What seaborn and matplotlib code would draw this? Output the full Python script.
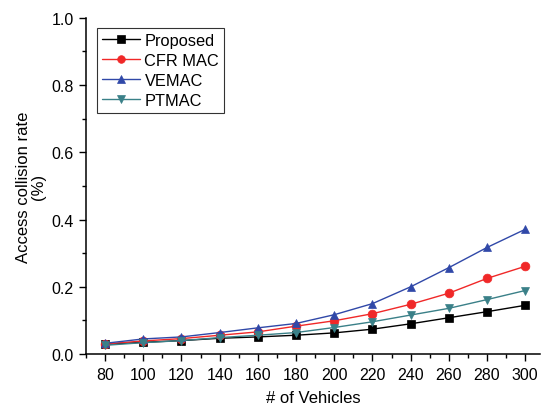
import numpy as np
import matplotlib
matplotlib.use("Agg")
import matplotlib.pyplot as plt
import seaborn as sns
import pandas as pd
from matplotlib.ticker import MultipleLocator

# === Data ===
vehicles = [80, 100, 120, 140, 160, 180, 200, 220, 240, 260, 280, 300]
proposed = [0.029, 0.035, 0.040, 0.047, 0.051, 0.056, 0.063, 0.074, 0.090, 0.108, 0.126, 0.145]
cfr_mac = [0.030, 0.039, 0.046, 0.056, 0.066, 0.083, 0.099, 0.120, 0.148, 0.181, 0.225, 0.261]
vemac = [0.032, 0.045, 0.051, 0.064, 0.078, 0.091, 0.117, 0.150, 0.200, 0.257, 0.317, 0.371]
ptmac = [0.026, 0.034, 0.040, 0.049, 0.056, 0.064, 0.079, 0.096, 0.116, 0.136, 0.162, 0.189]

series_names = ["Proposed", "CFR MAC", "VEMAC", "PTMAC"]
colors = ["#000000", "#f02828", "#3048a8", "#3a8088"]
markers = ["s", "o", "^", "v"]

df = pd.DataFrame({
    "vehicles": vehicles * 4,
    "rate": proposed + cfr_mac + vemac + ptmac,
    "scheme": [n for n in series_names for _ in vehicles],
})

sns.set_style("ticks")
plt.rcParams["font.family"] = ["Liberation Sans", "DejaVu Sans"]
for k in ["text.color", "axes.labelcolor", "xtick.color", "ytick.color", "axes.edgecolor"]:
    plt.rcParams[k] = "black"

fig = plt.figure(figsize=(5.41, 4.10), dpi=100)
ax = fig.add_axes([0.159, 0.134, 0.84, 0.82])

sns.lineplot(data=df, x="vehicles", y="rate", hue="scheme", style="scheme",
             hue_order=series_names, style_order=series_names,
             palette=colors, markers=markers, dashes=False,
             markersize=6.3, linewidth=1, ax=ax)
# markers filled with the line colour, no white rim
for line in ax.get_lines():
    line.set_markeredgecolor(line.get_color())
    line.set_markeredgewidth(0.5)

ax.set_xlim(70, 308)
ax.set_ylim(0, 1.0)
ax.set_xticks(vehicles)
ax.xaxis.set_minor_locator(MultipleLocator(10))
ax.yaxis.set_major_locator(MultipleLocator(0.2))
ax.yaxis.set_minor_locator(MultipleLocator(0.1))
ax.set_yticklabels([f"{v:.1f}" for v in ax.get_yticks()])
ax.tick_params(which="major", length=5, width=1, labelsize=11.5, direction="out", pad=4)
ax.tick_params(which="minor", length=3, width=1, direction="out")
for s in ["left", "bottom"]:
    ax.spines[s].set_linewidth(1.1)
sns.despine(ax=ax)

ax.set_xlabel("# of Vehicles", fontsize=12, labelpad=6)
ax.set_ylabel("Access collision rate\n(%)", fontsize=12, labelpad=4, linespacing=1.0)

leg = ax.legend(loc="upper left", bbox_to_anchor=(0.024, 0.97), borderaxespad=0,
                fontsize=11.8, frameon=True, fancybox=False, edgecolor="black",
                handlelength=2.3, handletextpad=0.3, borderpad=0.3, labelspacing=0.3)
leg.get_frame().set_linewidth(0.8)
for h in leg.legend_handles:
    h.set_markeredgecolor(h.get_color())
    h.set_markersize(5.5)

fig.savefig("out.png", dpi=100)
